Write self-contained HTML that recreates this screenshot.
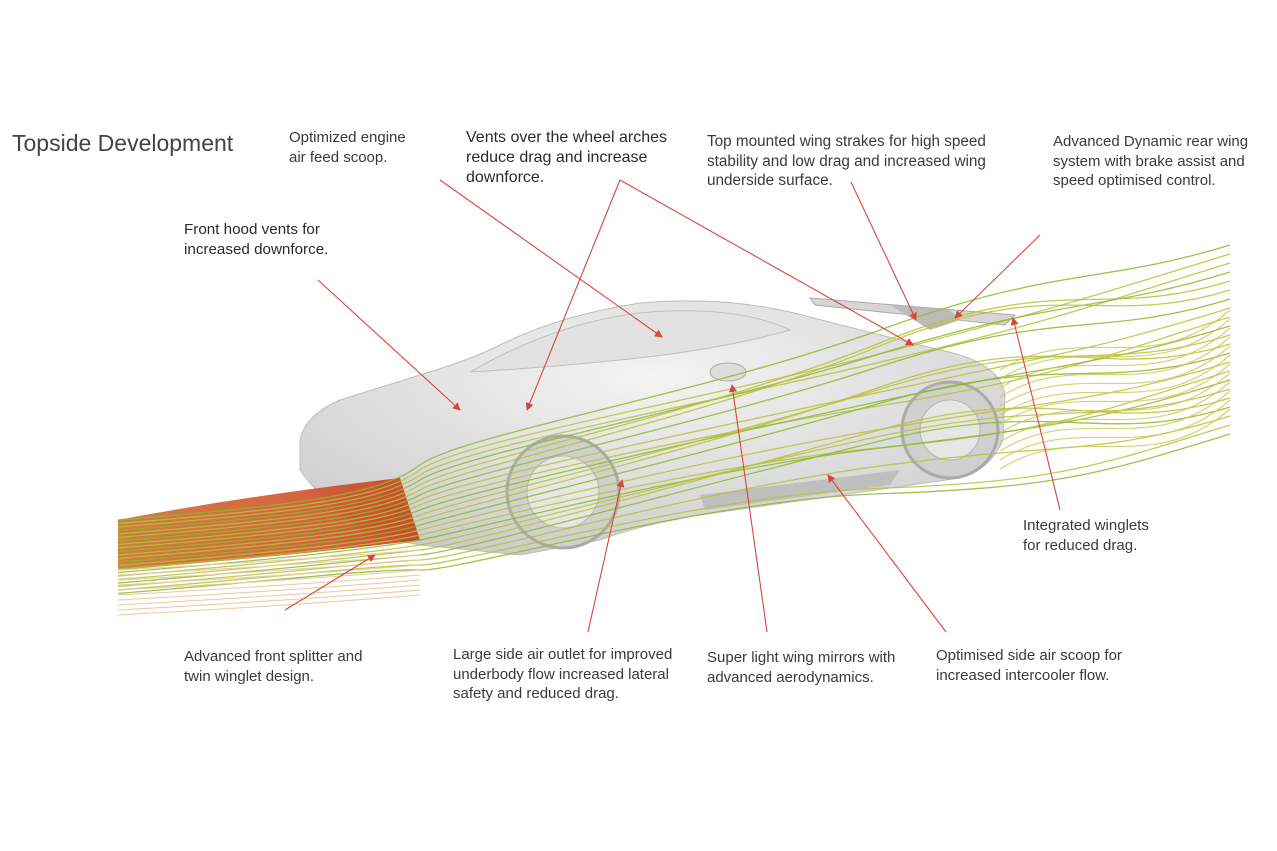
<!DOCTYPE html>
<html><head><meta charset="utf-8">
<style>
html,body{margin:0;padding:0;background:#fff;}
#w{position:relative;width:1277px;height:851px;overflow:hidden;background:#fff;font-family:"Liberation Sans",sans-serif;color:#3a3a3a;}
.t{position:absolute;font-size:15px;line-height:19.5px;white-space:nowrap;}
.b{font-size:15.5px;line-height:20px;color:#2a2a2a;}
svg{position:absolute;left:0;top:0;}
</style></head><body>
<div id="w">
<svg id="s" width="1277" height="851" viewBox="0 0 1277 851">
<defs>
<linearGradient id="band" x1="0" x2="1" y1="0" y2="0">
<stop offset="0" stop-color="#c9702a"/><stop offset="0.6" stop-color="#d0542a"/><stop offset="1" stop-color="#c83a1e"/>
</linearGradient>
<radialGradient id="body" cx="0.5" cy="0.3" r="0.8">
<stop offset="0" stop-color="#f4f4f4"/><stop offset="1" stop-color="#c8c8c8"/>
</radialGradient>
<marker id="ar" markerWidth="8" markerHeight="8" refX="7" refY="4" orient="auto" markerUnits="userSpaceOnUse">
<path d="M0,0 L8,4 L0,8 z" fill="#d9453a"/></marker>
</defs>
<path d="M300,440 Q305,415 340,400 L420,375 Q470,360 500,345 Q560,315 640,303 Q720,296 790,312 Q860,330 940,350 Q1000,362 1005,395 L1003,440 Q990,470 960,478 L700,515 Q640,525 600,540 L520,555 Q470,550 420,545 L370,535 Q320,500 300,470 Z" fill="url(#body)" stroke="#bdbdbd"/>
<path d="M470,372 Q560,320 650,312 Q740,306 790,330 Q720,350 620,360 Q540,368 470,372Z" fill="#e2e2e2" stroke="#c0c0c0"/>
<path d="M810,298 L1015,315 L1005,325 L815,305Z" fill="#d6d6d6" stroke="#aaa"/>
<path d="M890,305 L930,330 L960,320 L950,310Z" fill="#bbb"/>
<circle cx="563" cy="492" r="56" fill="#d0d0d0" stroke="#aaa" stroke-width="3"/>
<circle cx="563" cy="492" r="36" fill="#e6e6e6" stroke="#b5b5b5"/>
<circle cx="950" cy="430" r="48" fill="#d0d0d0" stroke="#aaa" stroke-width="3"/>
<circle cx="950" cy="430" r="30" fill="#e6e6e6" stroke="#b5b5b5"/>
<path d="M700,495 L900,470 L890,485 L705,510Z" fill="#bfbfbf"/>
<ellipse cx="728" cy="372" rx="18" ry="9" fill="#ddd" stroke="#aaa"/>
<path d="M118,520 Q250,495 400,478 L420,540 Q300,555 118,570 Z" fill="url(#band)" opacity="0.9"/>
<g id="lines" fill="none"></g>
<g stroke="#d9453a" stroke-width="1.1" fill="none" marker-end="url(#ar)">
<line x1="440" y1="180" x2="662" y2="337"/>
<line x1="620" y1="180" x2="527" y2="410"/>
<line x1="620" y1="180" x2="913" y2="345"/>
<line x1="851" y1="182" x2="916" y2="320"/>
<line x1="1040" y1="235" x2="955" y2="318"/>
<line x1="318" y1="280" x2="460" y2="410"/>
<line x1="1060" y1="510" x2="1013" y2="318"/>
<line x1="285" y1="610" x2="375" y2="555"/>
<line x1="588" y1="632" x2="622" y2="480"/>
<line x1="767" y1="632" x2="732" y2="385"/>
<line x1="946" y1="632" x2="828" y2="475"/>
</g>
</svg>
<div class="t" style="left:12px;top:130px;font-size:23px;line-height:27px;color:#444">Topside Development</div>
<div class="t" style="left:289px;top:128px">Optimized engine<br>air feed scoop.</div>
<div class="t b" style="left:466px;top:128px;font-size:16px">Vents over the wheel arches<br>reduce drag and increase<br>downforce.</div>
<div class="t" style="left:707px;top:132px;font-size:15.3px">Top mounted wing strakes for high speed<br>stability and low drag and increased wing<br>underside surface.</div>
<div class="t" style="left:1053px;top:132px">Advanced Dynamic rear wing<br>system with brake assist and<br>speed optimised control.</div>
<div class="t b" style="left:184px;top:220px;font-size:15.2px">Front hood vents for<br>increased downforce.</div>
<div class="t" style="left:1023px;top:516px">Integrated winglets<br>for reduced drag.</div>
<div class="t" style="left:184px;top:647px">Advanced front splitter and<br>twin winglet design.</div>
<div class="t" style="left:453px;top:645px">Large side air outlet for improved<br>underbody flow increased lateral<br>safety and reduced drag.</div>
<div class="t" style="left:707px;top:648px">Super light wing mirrors with<br>advanced aerodynamics.</div>
<div class="t" style="left:936px;top:646px">Optimised side air scoop for<br>increased intercooler flow.</div>
</div>
<script>
var g=document.getElementById('lines'),h='';
for(var i=0;i<22;i++){var y0=500+i*3.5;var y1=405+i*5;var y2=300+i*7+Math.sin(i)*20;var y3=245+i*9;
h+='<path d="M118,'+(y0+20)+' C300,'+(y0+5)+' 380,'+(y0-5)+' 420,'+(y1+60)+' S700,'+(y1-10)+' 880,'+(y2+30)+' S1100,'+(y3+40)+' 1230,'+y3+'" stroke="'+(i%3?'#b7c236':'#8db82a')+'" stroke-width="1.3" opacity="0.85"/>';}
for(var j=0;j<10;j++){var y=560+j*5;h+='<path d="M118,'+(y+10)+' Q300,'+(y)+' 420,'+(y-10)+'" stroke="#e9c9a0" stroke-width="1"/>';}
for(var k=0;k<12;k++){var y=330+k*9;h+='<path d="M1000,'+(y+40)+' C1080,'+(y-10)+' 1150,'+(y+50)+' 1230,'+(y-20)+'" stroke="#c9c850" stroke-width="1.2" opacity="0.8"/>';}
g.innerHTML=h;
</script>
</body></html>
